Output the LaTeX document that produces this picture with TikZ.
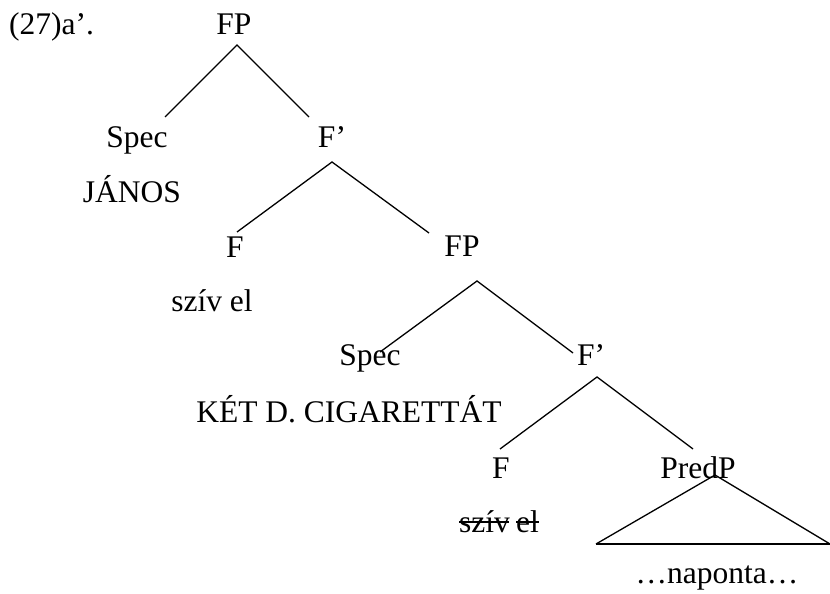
\documentclass[tikz,border=0pt]{standalone}
\usepackage{fontspec}
\setmainfont{Liberation Serif}
\begin{document}
\begin{tikzpicture}[x=1pt,y=-1pt,
  lbl/.style={inner sep=0pt,anchor=base,font=\fontsize{31.5}{36}\selectfont},
  branch/.style={line width=1.3pt,line cap=butt}]
\useasboundingbox[fill=white] (0,0) rectangle (830,594);
% labels
\node[lbl,anchor=base west] (ex) at (9,35) {(27)a’.};
\node[lbl] (fp1) at (234,35) {FP};
\node[lbl] (spec1) at (137,147) {Spec};
\node[lbl] (fb1) at (332,147) {F’};
\node[lbl] (janos) at (132,202) {JÁNOS};
\node[lbl] (f1) at (235,257) {F};
\node[lbl] (fp2) at (462,256) {FP};
\node[lbl] (sziv1) at (212,311) {szív el};
\node[lbl] (spec2) at (370,365) {Spec};
\node[lbl] (fb2) at (591,365) {F’};
\node[lbl] (ket) at (349,422) {KÉT D. CIGARETTÁT};
\node[lbl] (f2) at (501,478) {F};
\node[lbl] (predp) at (698,478) {PredP};
\node[lbl,anchor=base west] (sziv2a) at (459,532) {szív};
\node[lbl,anchor=base west] (sziv2b) at (516,532) {el};
\node[lbl] (nap) at (717,583) {…naponta…};
% branch points
\coordinate (a1) at (237,45);
\coordinate (l1) at (165,117);
\coordinate (r1) at (309,117);
\coordinate (a2) at (332,162);
\coordinate (l2) at (237,232);
\coordinate (r2) at (429,233);
\coordinate (a3) at (477,281);
\coordinate (l3) at (380,352);
\coordinate (r3) at (573,353);
\coordinate (a4) at (597,377);
\coordinate (l4) at (500,449);
\coordinate (r4) at (693,449);
\coordinate (t1) at (715,475);
\coordinate (t2) at (596,544);
\coordinate (t3) at (830,544);
% branches
\draw[branch] (l1) -- (a1) -- (r1);
\draw[branch] (l2) -- (a2) -- (r2);
\draw[branch] (l3) -- (a3) -- (r3);
\draw[branch] (l4) -- (a4) -- (r4);
\draw[branch] (t2) -- (t1) -- (t3);
\draw[branch] (t2) -- (t3);
% strike-through
\draw[line width=1.3pt] ([yshift=10pt]sziv2a.base west) -- ([yshift=10pt,xshift=-1pt]sziv2a.base east);
\draw[line width=1.3pt] ([yshift=10pt]sziv2b.base west) -- ([yshift=10pt]sziv2b.base east);
\end{tikzpicture}
\end{document}
